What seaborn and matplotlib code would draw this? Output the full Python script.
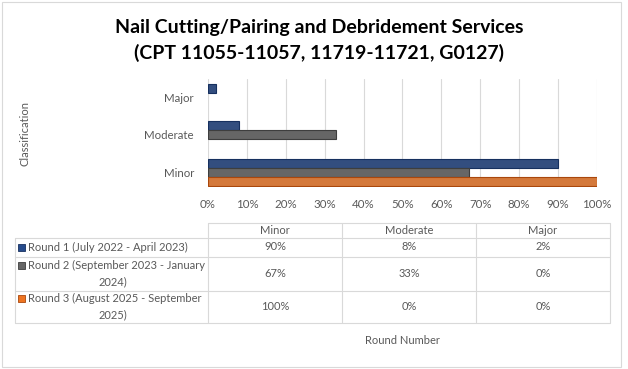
import matplotlib
matplotlib.use("Agg")
import matplotlib.pyplot as plt
import seaborn as sns
import pandas as pd
from matplotlib.ticker import PercentFormatter
from matplotlib.lines import Line2D
from matplotlib.patches import Rectangle

# Chart data
categories = ["Minor", "Moderate", "Major"]
rounds = ["Round 1 (July 2022 - April 2023)",
          "Round 2 (September 2023 - January 2024)",
          "Round 3 (August 2025 - September 2025)"]
round1 = [90, 8, 2]
round2 = [67, 33, 0]
round3 = [100, 0, 0]
colors = ["#264B8C", "#666666", "#EE7421"]
edges = ["#16305F", "#3E3E3E", "#A9470C"]

# how the round labels wrap inside the table
round_lines = [["Round 1 (July 2022 - April 2023)"],
               ["Round 2 (September 2023 - January", "2024)"],
               ["Round 3 (August 2025 - September", "2025)"]]

W, H = 628, 369
FONT = "Lato"
TXT = "#595959"
FS = 8

sns.set_style("white")
plt.rcParams["font.family"] = [FONT, "DejaVu Sans"]

rows = []
for name, vals in zip(rounds, [round1, round2, round3]):
    for cat, v in zip(categories, vals):
        rows.append({"Classification": cat, "Round": name, "Value": v})
df = pd.DataFrame(rows)

fig = plt.figure(figsize=(W / 100, H / 100), dpi=100)
fig.patch.set_facecolor("white")


def fx(x):
    return x / W


def fy(y):
    return 1 - y / H


ax = fig.add_axes([fx(208), fy(187), fx(597) - fx(208), fy(79) - fy(187)])
sns.barplot(data=df, y="Classification", x="Value", hue="Round", orient="h",
            order=categories[::-1], hue_order=rounds, palette=colors,
            width=0.73, ax=ax, legend=False, zorder=3)

for i, cont in enumerate(ax.containers):
    for bar in cont:
        bar.set_edgecolor(edges[i])
        # no outline for empty bars
        bar.set_linewidth(0.8 if bar.get_width() > 0 else 0)

ax.set_xlim(0, 100)
ax.set_ylim(2.4, -0.5)
ax.xaxis.set_major_formatter(PercentFormatter(decimals=0))
ax.set_xticks(range(0, 101, 10))
ax.grid(axis="x", color="#d9d9d9", linewidth=0.8, zorder=0)
ax.grid(axis="y", visible=False)
for s in ax.spines.values():
    s.set_visible(False)
ax.tick_params(axis="both", length=0, labelsize=8.3, labelcolor=TXT)
ax.tick_params(axis="x", pad=9)
ax.tick_params(axis="y", pad=10)
ax.set_xlabel("")
ax.set_ylabel("")
fig.text(fx(25), fy(134), "Classification", rotation=90, ha="center",
         va="center", fontsize=FS, color=TXT)

# Title
fig.text(fx(319), fy(28), "Nail Cutting/Pairing and Debridement Services",
         ha="center", va="center", fontsize=14, fontweight="bold", color="black")
fig.text(fx(319), fy(53), "(CPT 11055-11057, 11719-11721, G0127)",
         ha="center", va="center", fontsize=14, fontweight="bold", color="black")

# Data table under the chart
lc = "#d9d9d9"
col_x = [208, 342, 476, 610]
row_y = [223, 237.5, 256.5, 290.7, 323]


def hline(y, x0, x1):
    fig.add_artist(Line2D([fx(x0), fx(x1)], [fy(y), fy(y)], color=lc, lw=0.8))


def vline(x, y0, y1):
    fig.add_artist(Line2D([fx(x), fx(x)], [fy(y0), fy(y1)], color=lc, lw=0.8))


hline(row_y[0], 208, 610)
for y in row_y[1:]:
    hline(y, 15, 610)
vline(15, row_y[1], row_y[-1])
for x in col_x:
    vline(x, row_y[0], row_y[-1])

for j, cat in enumerate(categories):
    cx = (col_x[j] + col_x[j + 1]) / 2
    fig.text(fx(cx), fy((row_y[0] + row_y[1]) / 2), cat, ha="center",
             va="center", fontsize=FS, color=TXT)

for i, vals in enumerate([round1, round2, round3]):
    cy = (row_y[i + 1] + row_y[i + 2]) / 2
    for j, v in enumerate(vals):
        cx = (col_x[j] + col_x[j + 1]) / 2
        fig.text(fx(cx), fy(cy), f"{v}%", ha="center", va="center",
                 fontsize=FS, color=TXT)
    lines = round_lines[i]
    if len(lines) == 1:
        y1 = cy
    else:
        y1 = cy - 8
    fig.add_artist(Rectangle((fx(18), fy(y1 + 3.5)), fx(7), fy(0) - fy(7),
                             facecolor=colors[i], edgecolor=edges[i], lw=0.6))
    fig.text(fx(28), fy(y1), lines[0], ha="left", va="center", fontsize=FS,
             color=TXT)
    if len(lines) > 1:
        fig.text(fx(113), fy(cy + 8), lines[1], ha="center", va="center",
                 fontsize=FS, color=TXT)

fig.text(fx(402), fy(341), "Round Number", ha="center", va="center",
         fontsize=FS, color=TXT)

# outer chart border
fig.add_artist(Rectangle((fx(1.5), fy(367)), fx(621) - fx(1.5), fy(1.5) - fy(367),
                         fill=False, edgecolor="#d9d9d9", lw=0.8))

fig.savefig("out.png", dpi=100)
